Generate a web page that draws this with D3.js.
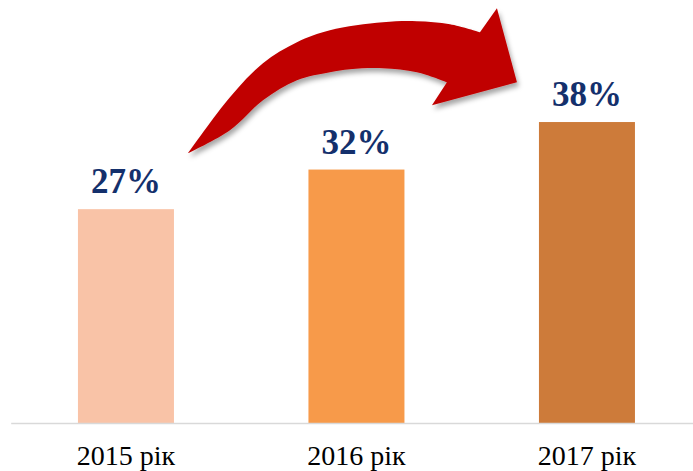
<!DOCTYPE html>
<html>
<head>
<meta charset="utf-8">
<script src="https://cdn.jsdelivr.net/npm/d3@7"></script>
<style>
  body { margin: 0; background: #fff; }
  svg { display: block; }
</style>
</head>
<body>
<div id="chart"></div>
<script>
// Width and height of chart
var width = 693;
var height = 471;

// data
var categories = ["2015 рік", "2016 рік", "2017 рік"];
var values = [27, 32, 38];
var valueLabels = ["27%", "32%", "38%"];
var barColors = ["#f9c3a7", "#f79a4a", "#cd7b3a"];

var baseY = 423;

var svg = d3.select("#chart")
    .append("svg")
    .attr("width", width)
    .attr("height", height);

// soft shadow for the arrow
var defs = svg.append("defs");
var filter = defs.append("filter")
    .attr("id", "shadow")
    .attr("x", "-20%").attr("y", "-20%")
    .attr("width", "140%").attr("height", "140%");
filter.append("feDropShadow")
    .attr("dx", 2)
    .attr("dy", 4)
    .attr("stdDeviation", 2.5)
    .attr("flood-color", "#000")
    .attr("flood-opacity", 0.35);

// scales
var x = d3.scaleBand()
    .domain(categories)
    .range([10.7, 702.2])
    .paddingInner(0.5835)
    .paddingOuter(0.29175);

var y = d3.scaleLinear()
    .domain([0, 40])
    .range([baseY, 106.2]);

// bars
svg.selectAll(".bar")
    .data(values)
    .enter().append("rect")
    .attr("class", "bar")
    .attr("x", function (d, i) { return x(categories[i]); })
    .attr("width", x.bandwidth())
    .attr("y", function (d) { return y(d); })
    .attr("height", function (d) { return baseY - y(d); })
    .style("fill", function (d, i) { return barColors[i]; });

// x axis
var xAxis = svg.append("g")
    .attr("transform", "translate(0," + baseY + ")")
    .call(d3.axisBottom(x).tickSize(0).tickSizeOuter(0).tickPadding(22));

xAxis.select(".domain")
    .attr("stroke", "#d9d9d9")
    .attr("stroke-width", 1.5);

xAxis.selectAll("text")
    .style("font-family", "'Liberation Serif', 'Times New Roman', serif")
    .style("font-size", "28px")
    .style("fill", "#000");

// value labels
svg.selectAll(".val")
    .data(values)
    .enter().append("text")
    .attr("class", "val")
    .attr("x", function (d, i) { return x(categories[i]) + x.bandwidth() / 2; })
    .attr("y", function (d) { return y(d) - 16; })
    .attr("text-anchor", "middle")
    .style("font-family", "'Liberation Serif', 'Times New Roman', serif")
    .style("font-weight", "bold")
    .style("font-size", "35px")
    .style("fill", "#14306c")
    .text(function (d, i) { return valueLabels[i]; });

// curved growth arrow, placed relative to the first bar
var tailX = x(categories[0]) + x.bandwidth() + 14;
var tailY = y(values[0]) - 56;

var outerEdge = [[0, 0], [42, -56], [75, -90], [109, -111], [142, -123], [195, -131], [229, -132], [262, -129], [292, -121]];
var head = [[309, -145], [329, -71], [244, -48], [259, -71]];
var innerEdge = [[259, -71], [229, -81], [195, -85], [162, -84], [142, -81], [109, -73], [75, -53], [42, -23], [0, 0]];

var curve = d3.line().curve(d3.curveCatmullRom.alpha(0.5));
var straight = d3.line();

var arrowPath = curve(outerEdge)
    + straight(head).replace("M", "L")
    + curve(innerEdge).replace("M", "L") + "Z";

svg.append("path")
    .attr("d", arrowPath)
    .attr("transform", "translate(" + tailX + "," + tailY + ")")
    .style("fill", "#c00000")
    .attr("filter", "url(#shadow)");
</script>
</body>
</html>
